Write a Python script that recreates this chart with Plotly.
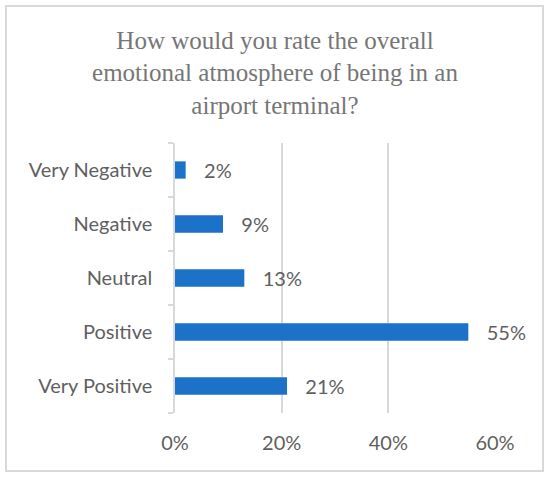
import plotly.graph_objects as go

# survey answers, top to bottom as shown
categories = ["Very Negative", "Negative", "Neutral", "Positive", "Very Positive"]
shares = [0.02, 0.09, 0.13, 0.55, 0.21]
share_labels = ["2%", "9%", "13%", "55%", "21%"]
x_ticks = [0, 0.2, 0.4, 0.6]
x_tick_labels = ["0%", "20%", "40%", "60%"]

title_text = ("How would you rate the overall<br>"
              "emotional atmosphere of being in an<br>"
              "airport terminal?")

label_font = dict(family="Lato", size=20, color="#5F5F5F")
pad = "\u00a0" * 3

fig = go.Figure()
fig.add_trace(
    go.Bar(
        y=categories,
        x=shares,
        orientation="h",
        marker=dict(color="#1C72C8", line=dict(width=0)),
        width=0.32,
        text=[pad + s for s in share_labels],
        textposition="outside",
        textfont=label_font,
        constraintext="none",
        cliponaxis=False,
        hoverinfo="skip",
    )
)

fig.update_layout(
    width=550,
    height=479,
    margin=dict(l=175, r=55, t=143, b=66),
    paper_bgcolor="white",
    plot_bgcolor="white",
    showlegend=False,
    title=dict(
        text=title_text,
        x=0.5,
        xanchor="center",
        xref="container",
        y=0.898,
        yanchor="top",
        font=dict(family="Liberation Serif", size=25, color="#767676"),
    ),
    xaxis=dict(
        range=[0, 0.6],
        tickvals=x_ticks,
        ticktext=x_tick_labels,
        tickfont=label_font,
        showgrid=True,
        gridcolor="#D9D9D9",
        gridwidth=1.5,
        zeroline=False,
        showline=False,
        ticks="",
        ticklabelstandoff=16,
    ),
    yaxis=dict(
        categoryorder="array",
        categoryarray=categories[::-1],
        tickfont=label_font,
        showline=True,
        linecolor="#D9D9D9",
        linewidth=1.5,
        ticks="outside",
        tickson="boundaries",
        ticklen=5,
        tickcolor="#D9D9D9",
        tickwidth=1.5,
        showgrid=False,
        ticklabelstandoff=17,
    ),
    shapes=[
        dict(
            type="rect",
            xref="paper",
            yref="paper",
            x0=(6 - 175) / 320,
            x1=(543 - 175) / 320,
            y0=(413 - 471) / 270,
            y1=(413 - 6) / 270,
            line=dict(color="#D9D9D9", width=2),
            fillcolor="rgba(0,0,0,0)",
            layer="below",
        )
    ],
)

# the page body has a default 8px margin, drop it so the figure fills the window
fig.write_html("out.html", config={"displayModeBar": False},
               post_script="document.body.style.margin = '0';")
